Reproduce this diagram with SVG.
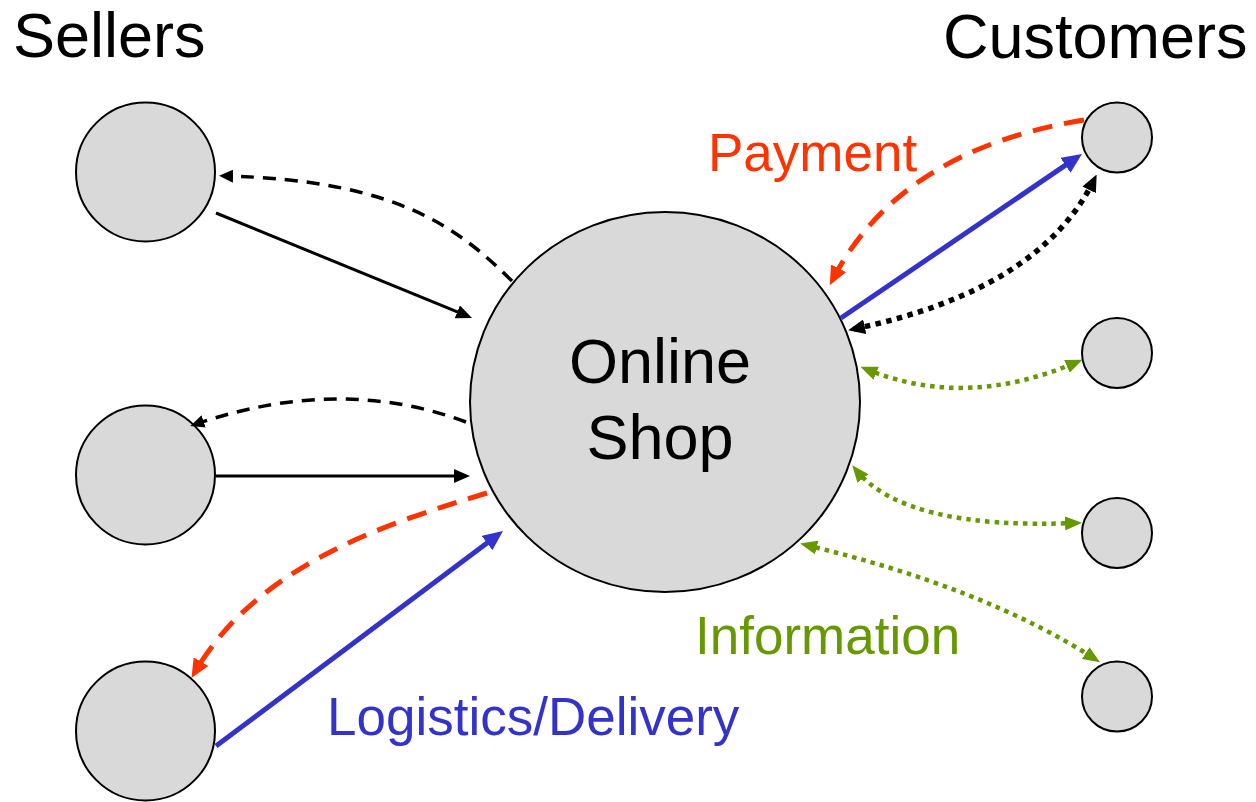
<svg xmlns="http://www.w3.org/2000/svg" width="1256" height="802" viewBox="0 0 1256 802">
  <style>
    .node { fill: #D9D9D9; stroke: #000; stroke-width: 2; }
    .title { font-family: "Liberation Sans", Arial, sans-serif; font-size: 63px; fill: #000; }
    .label { font-family: "Liberation Sans", Arial, sans-serif; font-size: 53px; }
    .solid-black { fill: none; stroke: #000; stroke-width: 3; }
    .dash-black { fill: none; stroke: #000; stroke-width: 3.5; stroke-dasharray: 13 9; }
    .dash-red { fill: none; stroke: #FF3300; stroke-width: 5; stroke-dasharray: 20 12; }
    .solid-blue { fill: none; stroke: #3333CC; stroke-width: 5; }
    .dot-black { fill: none; stroke: #000; stroke-width: 5.5; stroke-dasharray: 5.5 5.5; }
    .dot-green { fill: none; stroke: #669900; stroke-width: 4.5; stroke-dasharray: 4.5 5; }
  </style>
  <defs>
    <marker id="arrow-black" markerUnits="userSpaceOnUse" markerWidth="16" markerHeight="14" refX="10" refY="7" orient="auto-start-reverse">
      <path d="M0,0 L16,7 L0,14 z" fill="#000"/>
    </marker>
    <marker id="arrow-black-small" markerUnits="userSpaceOnUse" markerWidth="14" markerHeight="13" refX="8" refY="6.5" orient="auto-start-reverse">
      <path d="M0,0 L14,6.5 L0,13 z" fill="#000"/>
    </marker>
    <marker id="arrow-black-dot" markerUnits="userSpaceOnUse" markerWidth="17" markerHeight="15" refX="11" refY="7.5" orient="auto-start-reverse">
      <path d="M0,0 L17,7.5 L0,15 z" fill="#000"/>
    </marker>
    <marker id="arrow-red" markerUnits="userSpaceOnUse" markerWidth="19" markerHeight="17" refX="12" refY="8.5" orient="auto-start-reverse">
      <path d="M0,0 L19,8.5 L0,17 z" fill="#FF3300"/>
    </marker>
    <marker id="arrow-blue" markerUnits="userSpaceOnUse" markerWidth="20" markerHeight="18" refX="13" refY="9" orient="auto-start-reverse">
      <path d="M0,0 L20,9 L0,18 z" fill="#3333CC"/>
    </marker>
    <marker id="arrow-green" markerUnits="userSpaceOnUse" markerWidth="17" markerHeight="14" refX="11" refY="7" orient="auto-start-reverse">
      <path d="M0,0 L17,7 L0,14 z" fill="#669900"/>
    </marker>
  </defs>

  <rect width="1256" height="802" fill="#fff"/>

  <!-- column headings -->
  <text class="title" x="13" y="57">Sellers</text>
  <text class="title" x="943" y="58">Customers</text>

  <!-- sellers -->
  <g id="seller-1"><circle class="node" cx="145.5" cy="172" r="69.5"/></g>
  <g id="seller-2"><circle class="node" cx="145.5" cy="475" r="69.5"/></g>
  <g id="seller-3"><circle class="node" cx="145.5" cy="731" r="69.5"/></g>

  <!-- the shop -->
  <g id="online-shop">
    <ellipse class="node" cx="665" cy="402" rx="195" ry="190"/>
    <text class="title" x="660" y="383" text-anchor="middle">Online</text>
    <text class="title" x="660" y="459" text-anchor="middle">Shop</text>
  </g>

  <!-- customers -->
  <g id="customer-1"><circle class="node" cx="1117" cy="137.5" r="35"/></g>
  <g id="customer-2"><circle class="node" cx="1117" cy="353" r="35"/></g>
  <g id="customer-3"><circle class="node" cx="1117" cy="533" r="35"/></g>
  <g id="customer-4"><circle class="node" cx="1117" cy="696.5" r="35"/></g>

  <!-- flows -->
  <g id="connectors">
    <!-- seller 1 -->
    <path class="solid-black" d="M216,213 L466.5,315.7" marker-end="url(#arrow-black)"/>
    <path class="dash-black" d="M512,281 C460,230 400,180 225,176" marker-end="url(#arrow-black-small)"/>
    <!-- seller 2 -->
    <path class="solid-black" d="M216,476 L464,476" marker-end="url(#arrow-black)"/>
    <path class="dash-black" d="M466,422 Q340,375 196,424" marker-end="url(#arrow-black-small)"/>
    <!-- seller 3 -->
    <path class="solid-blue" d="M216,746 L497.4,535.2" marker-end="url(#arrow-blue)"/>
    <path class="dash-red" d="M487,493 C400,520 260,560 195,672" marker-end="url(#arrow-red)"/>
    <!-- customer 1 -->
    <path class="dash-red" d="M1084,120 Q900,150 833,279" marker-end="url(#arrow-red)"/>
    <path class="solid-blue" d="M841,318 L1076.2,157.9" marker-end="url(#arrow-blue)"/>
    <path class="dot-black" d="M854,329 Q1040,290 1094,180" marker-start="url(#arrow-black-dot)" marker-end="url(#arrow-black-dot)"/>
    <!-- information to customers 2-4 -->
    <path class="dot-green" d="M866,369 Q965,410 1077,362" marker-start="url(#arrow-green)" marker-end="url(#arrow-green)"/>
    <path class="dot-green" d="M856,470 Q905,530 1076,523" marker-start="url(#arrow-green)" marker-end="url(#arrow-green)"/>
    <path class="dot-green" d="M806,545 Q985,588 1095,659" marker-start="url(#arrow-green)" marker-end="url(#arrow-green)"/>
  </g>

  <!-- flow labels -->
  <text class="label" x="708" y="171" fill="#FF3300">Payment</text>
  <text class="label" x="695" y="654" fill="#669900">Information</text>
  <text class="label" x="327" y="735" fill="#3333CC">Logistics/Delivery</text>
</svg>
